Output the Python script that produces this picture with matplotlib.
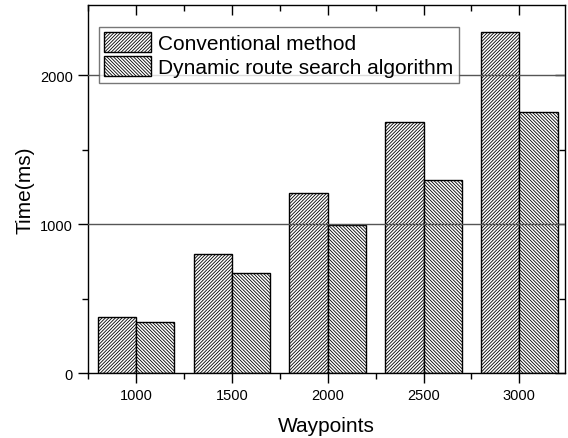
import matplotlib
matplotlib.use("Agg")
import matplotlib.pyplot as plt
import numpy as np
from matplotlib.ticker import MultipleLocator

# Data
waypoints = [1000, 1500, 2000, 2500, 3000]
conventional = [380, 800, 1212, 1690, 2290]
dynamic = [342, 676, 997, 1300, 1752]
series_names = ["Conventional method", "Dynamic route search algorithm"]

plt.rcParams['font.family'] = ['Liberation Sans', 'DejaVu Sans']
plt.rcParams['hatch.linewidth'] = 0.6

fig = plt.figure(figsize=(5.68, 4.39), dpi=100)
ax = fig.add_axes([0.1544, 0.1474, 0.8403, 0.8396])

x = np.array(waypoints)
w = 200
ax.bar(x - w / 2, conventional, width=w, facecolor='white', edgecolor='black',
       hatch='/' * 10, linewidth=1.0, label=series_names[0], zorder=2)
ax.bar(x + w / 2, dynamic, width=w, facecolor='white', edgecolor='black',
       hatch='\\' * 10, linewidth=1.0, label=series_names[1], zorder=2)

# horizontal reference lines at major ticks (drawn over the bars)
for yv in [1000, 2000]:
    ax.axhline(yv, color='#555555', linewidth=1.0, zorder=3)

ax.set_xlim(748, 3238)
ax.set_ylim(0, 2475)
ax.set_xticks(waypoints)
ax.set_yticks([0, 1000, 2000])
ax.xaxis.set_minor_locator(MultipleLocator(250))
ax.yaxis.set_minor_locator(MultipleLocator(500))

ax.tick_params(axis='both', which='major', labelsize=10.5, direction='out', length=7, width=1)
ax.tick_params(axis='both', which='minor', direction='out', length=4, width=1)
ax.tick_params(top=True, right=True, which='both')
# top and right ticks point inward, like the original plot
for t in ax.xaxis.get_ticklines(minor=False)[1::2] + ax.xaxis.get_ticklines(minor=True)[1::2]:
    t.set_marker(3)
for t in ax.yaxis.get_ticklines(minor=False)[1::2] + ax.yaxis.get_ticklines(minor=True)[1::2]:
    t.set_marker(0)
for spine in ax.spines.values():
    spine.set_linewidth(1.0)

ax.set_xlabel("Waypoints", fontsize=15, labelpad=10)
ax.set_ylabel("Time(ms)", fontsize=15, labelpad=4)

leg = ax.legend(loc='upper left', bbox_to_anchor=(0.023, 0.94), fontsize=15,
                frameon=True, fancybox=False, edgecolor='#555555',
                handlelength=2.25, handleheight=1.1, handletextpad=0.35,
                borderpad=0.25, labelspacing=0.15, borderaxespad=0)
leg.get_frame().set_linewidth(1.0)
leg.set_zorder(5)

fig.savefig("out.png", dpi=100)
